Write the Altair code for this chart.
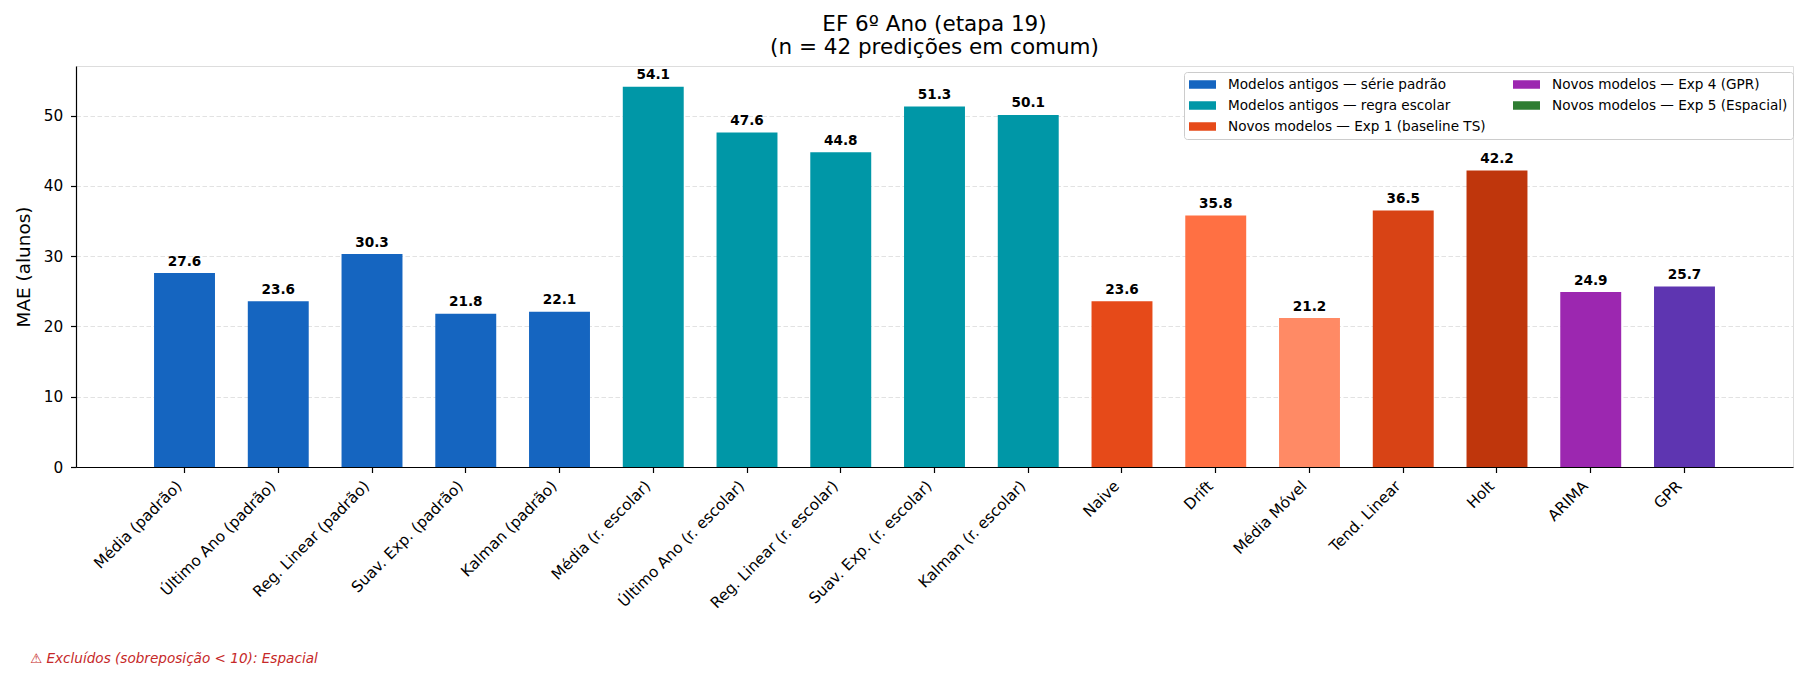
import altair as alt
import pandas as pd

# ---- data ----
modelos = [
    "Média (padrão)", "Último Ano (padrão)", "Reg. Linear (padrão)", "Suav. Exp. (padrão)", "Kalman (padrão)",
    "Média (r. escolar)", "Último Ano (r. escolar)", "Reg. Linear (r. escolar)", "Suav. Exp. (r. escolar)",
    "Kalman (r. escolar)", "Naive", "Drift", "Média Móvel", "Tend. Linear", "Holt", "ARIMA", "GPR",
]
mae = [27.6, 23.6, 30.3, 21.8, 22.1, 54.1, 47.6, 44.8, 51.3, 50.1, 23.6, 35.8, 21.2, 36.5, 42.2, 24.9, 25.7]
cores = (["#1565C0"] * 5 + ["#0097A7"] * 5 +
         ["#E64A19", "#FF7043", "#FF8A65", "#D84315", "#BF360C", "#9C27B0", "#5E35B1"])

# legend entries (filled column by column in a 2-column legend)
grupos_legenda = [
    "Modelos antigos — série padrão",
    "Modelos antigos — regra escolar",
    "Novos modelos — Exp 1 (baseline TS)",
    "Novos modelos — Exp 4 (GPR)",
    "Novos modelos — Exp 5 (Espacial)",
]
cores_legenda = ["#1565C0", "#0097A7", "#E64A19", "#9C27B0", "#2E7D32"]

y_ticks = [0, 10, 20, 30, 40, 50]
titulo = ["EF 6º Ano (etapa 19)", "(n = 42 predições em comum)"]
nota = "⚠ Excluídos (sobreposição < 10): Espacial"

FONT = "DejaVu Sans"

df = pd.DataFrame({"modelo": modelos, "mae": mae, "cor": cores})
leg_df = pd.DataFrame({"grupo": grupos_legenda})
nota_df = pd.DataFrame({"t": [nota]})

x_enc = alt.X(
    "modelo:N", sort=modelos,
    scale=alt.Scale(paddingInner=0.35, paddingOuter=0.8325),
    axis=alt.Axis(
        title=None, labelAngle=-45, labelAlign="right", labelBaseline="middle",
        labelOffset=-5.3, labelPadding=10.6, labelFontSize=15.3, labelFont=FONT,
        labelColor="black", labelLimit=400, labelOverlap=False,
        tickSize=5.5, tickColor="black", tickWidth=1.2,
        domainColor="black", domainWidth=1.2, grid=False,
    ),
)
y_enc = alt.Y(
    "mae:Q",
    scale=alt.Scale(domain=[0, 57.06], nice=False),
    axis=alt.Axis(
        values=y_ticks, format="d", title="MAE (alunos)",
        titleFontSize=18.4, titleFont=FONT, titleFontWeight="normal", titleColor="black",
        titlePadding=10, labelFontSize=15.3, labelFont=FONT, labelColor="black",
        labelPadding=7.8, tickSize=5.5, tickColor="black", tickWidth=1.2,
        domainColor="black", domainWidth=1.2,
        grid=True, gridDash=[4.5, 2.5], gridColor="#e2e2e2", gridWidth=1.2,
    ),
)

bars = alt.Chart(df).mark_bar().encode(
    x=x_enc, y=y_enc, color=alt.Color("cor:N", scale=None)
)

labels = alt.Chart(df).mark_text(
    baseline="alphabetic", dy=-7.5, fontSize=13.6, fontWeight="bold", font=FONT, color="black"
).encode(
    x=alt.X("modelo:N", sort=modelos),
    y="mae:Q",
    text=alt.Text("mae:Q", format=".1f"),
)

legend_layer = alt.Chart(leg_df).mark_point(opacity=0, filled=True, size=0).encode(
    x=alt.value(0), y=alt.value(0),
    color=alt.Color(
        "grupo:N",
        scale=alt.Scale(domain=grupos_legenda, range=cores_legenda),
        legend=alt.Legend(
            title=None, orient="none", legendX=1108, legendY=6, columns=2,
            columnPadding=27, rowPadding=6, clipHeight=15,
            symbolType="M-1,-0.315H1V0.315H-1Z", symbolSize=729, symbolStrokeWidth=0,
            symbolOpacity=1, symbolOffset=0, labelOffset=12,
            labelFontSize=13.6, labelFont=FONT, labelColor="black", labelLimit=500,
            padding=5, fillColor="white", strokeColor="#cccccc", cornerRadius=3,
        ),
    ),
)

nota_layer = alt.Chart(nota_df).mark_text(
    align="left", baseline="alphabetic", fontSize=13.6, font=FONT, fontStyle="italic", color="#C62828"
).encode(text="t:N", x=alt.value(-46), y=alt.value(597))

chart = alt.layer(bars, labels, legend_layer, nota_layer).resolve_scale(
    color="independent"
).properties(
    width=1717, height=401,
    padding={"left": 76, "top": 66, "right": 13, "bottom": 212},
    autosize=alt.AutoSizeParams(type="none"),
    title=alt.TitleParams(
        text=titulo, fontSize=21.5, font=FONT, fontWeight="normal", color="black",
        lineHeight=23.4, anchor="middle", baseline="bottom", offset=-14.6,
    ),
).configure_view(strokeWidth=0).configure(background="white")

chart.save("out.html", embed_options={"renderer": "svg", "actions": False})
